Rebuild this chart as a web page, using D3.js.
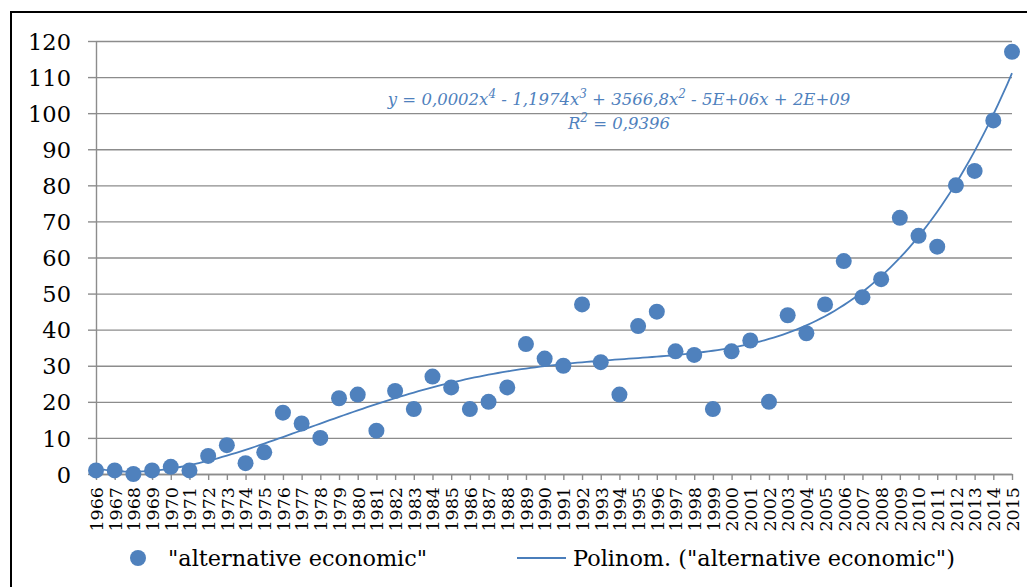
<!DOCTYPE html>
<html lang="en">
<head>
<meta charset="UTF-8">
<title>alternative economic</title>
<script src="https://cdn.jsdelivr.net/npm/d3@7"></script>
<style>
  body { margin: 0; background: #fff; }
  svg { display: block; }
  .tick text { font-family: "DejaVu Serif", serif; fill: #000; }
  .grid line { stroke: #8c8c8c; stroke-width: 1.4px; }
  .grid .domain { display: none; }
  .axis path, .axis line { stroke: #8c8c8c; stroke-width: 1.4px; }
  .legend text { font-family: "DejaVu Serif", serif; font-size: 22.4px; fill: #000; }
  .eq { font-family: "DejaVu Serif", serif; font-style: italic; font-size: 16.5px; fill: #4f81bd; text-anchor: middle; }
</style>
</head>
<body>
<div id="chart"></div>
<script>
// data
var years = [];
for (var yr = 1966; yr <= 2015; yr++) years.push(yr);
var values = [1, 1, 0, 1, 2, 1, 5, 8, 3, 6,
              17, 14, 10, 21, 22, 12, 23, 18, 27, 24,
              18, 20, 24, 36, 32, 30, 47, 31, 22, 41,
              45, 34, 33, 18, 34, 37, 20, 44, 39, 47,
              59, 49, 54, 71, 66, 63, 80, 84, 98, 117];
var yTicks = [0, 10, 20, 30, 40, 50, 60, 70, 80, 90, 100, 110, 120];
var seriesName = '"alternative economic"';
var trendName = 'Polinom. ("alternative economic")';

var W = 1027, H = 587;
var pLeft = 96, pRight = 1012, pTop = 41, pBottom = 474;
var dotColor = "#4f81bd";

var svg = d3.select("#chart").append("svg")
    .attr("width", W).attr("height", H);

// outer frame (right and bottom edges fall outside the picture)
svg.append("rect")
    .attr("x", 11).attr("y", 12)
    .attr("width", 1040).attr("height", 600)
    .attr("fill", "none").attr("stroke", "#000").attr("stroke-width", 2);

var x = d3.scalePoint().domain(years).range([pLeft, pRight]);
var xLin = d3.scaleLinear().domain([1966, 2015]).range([pLeft, pRight]);
var y = d3.scaleLinear().domain([0, 120]).range([pBottom, pTop]);

// grid
svg.append("g")
    .attr("class", "grid")
    .attr("transform", "translate(" + pLeft + ",0)")
    .call(d3.axisLeft(y).tickValues(yTicks).tickSize(-(pRight - pLeft)).tickFormat(""));

// y axis
var yAxis = svg.append("g")
    .attr("class", "axis")
    .attr("transform", "translate(" + pLeft + ",0)")
    .call(d3.axisLeft(y).tickValues(yTicks).tickSize(8).tickSizeOuter(0).tickPadding(17));
yAxis.selectAll(".tick text").style("font-size", "22.5px").attr("dy", "0.36em");

// x axis
var xAxis = svg.append("g")
    .attr("class", "axis")
    .attr("transform", "translate(0," + pBottom + ")")
    .call(d3.axisBottom(x).tickSize(6).tickSizeOuter(0));
xAxis.selectAll(".tick text")
    .style("font-size", "17.5px")
    .attr("text-anchor", "end")
    .attr("transform", "translate(0,13) rotate(-90)")
    .attr("x", 0).attr("y", 0)
    .attr("dy", "0.36em");

// polynomial trend (order 4, least squares)
function polyFit(xs, ys, order) {
  var n = order + 1, A = [], b = [];
  for (var i = 0; i < n; i++) {
    A.push([]);
    for (var j = 0; j < n; j++) A[i].push(d3.sum(xs, function (v) { return Math.pow(v, i + j); }));
    b.push(d3.sum(xs, function (v, k) { return Math.pow(v, i) * ys[k]; }));
  }
  for (var c = 0; c < n; c++) {
    var p = c;
    for (var r = c + 1; r < n; r++) if (Math.abs(A[r][c]) > Math.abs(A[p][c])) p = r;
    var t = A[c]; A[c] = A[p]; A[p] = t; t = b[c]; b[c] = b[p]; b[p] = t;
    for (var r2 = c + 1; r2 < n; r2++) {
      var f = A[r2][c] / A[c][c];
      for (var k = c; k < n; k++) A[r2][k] -= f * A[c][k];
      b[r2] -= f * b[c];
    }
  }
  var coef = new Array(n);
  for (var r3 = n - 1; r3 >= 0; r3--) {
    var s = b[r3];
    for (var k2 = r3 + 1; k2 < n; k2++) s -= A[r3][k2] * coef[k2];
    coef[r3] = s / A[r3][r3];
  }
  return coef;
}
var mid = 1990.5, half = 24.5;
var coef = polyFit(years.map(function (v) { return (v - mid) / half; }), values, 4);
function trend(yv) {
  var t = (yv - mid) / half, s = 0;
  for (var i = coef.length - 1; i >= 0; i--) s = s * t + coef[i];
  return s;
}
var trendPts = d3.range(1966, 2015.001, 0.25);

svg.append("path")
    .datum(trendPts)
    .attr("fill", "none")
    .attr("stroke", "#4a7ebb")
    .attr("stroke-width", 1.8)
    .attr("d", d3.line()
        .x(function (d) { return xLin(d); })
        .y(function (d) { return y(trend(d)); }));

// points
svg.selectAll(".dot")
    .data(values)
    .enter()
    .append("circle")
    .attr("class", "dot")
    .attr("cx", function (d, i) { return x(years[i]); })
    .attr("cy", function (d) { return y(d); })
    .attr("r", 8)
    .attr("fill", dotColor);

// equation
svg.append("text").attr("class", "eq")
    .attr("x", 619).attr("y", 105)
    .html('y = 0,0002x<tspan dy="-7" font-size="12">4</tspan><tspan dy="7"> - 1,1974x</tspan><tspan dy="-7" font-size="12">3</tspan><tspan dy="7"> + 3566,8x</tspan><tspan dy="-7" font-size="12">2</tspan><tspan dy="7"> - 5E+06x + 2E+09</tspan>');
svg.append("text").attr("class", "eq")
    .attr("x", 619).attr("y", 129)
    .html('R<tspan dy="-7" font-size="12">2</tspan><tspan dy="7"> = 0,9396</tspan>');

// legend
var lg = svg.append("g").attr("class", "legend");
lg.append("circle").attr("cx", 138).attr("cy", 558).attr("r", 8).attr("fill", dotColor);
lg.append("text").attr("x", 168).attr("y", 566).text(seriesName);
lg.append("line").attr("x1", 517).attr("x2", 566).attr("y1", 558).attr("y2", 558)
    .attr("stroke", "#4a7ebb").attr("stroke-width", 1.8);
lg.append("text").attr("x", 573).attr("y", 566).text(trendName);
</script>
</body>
</html>
